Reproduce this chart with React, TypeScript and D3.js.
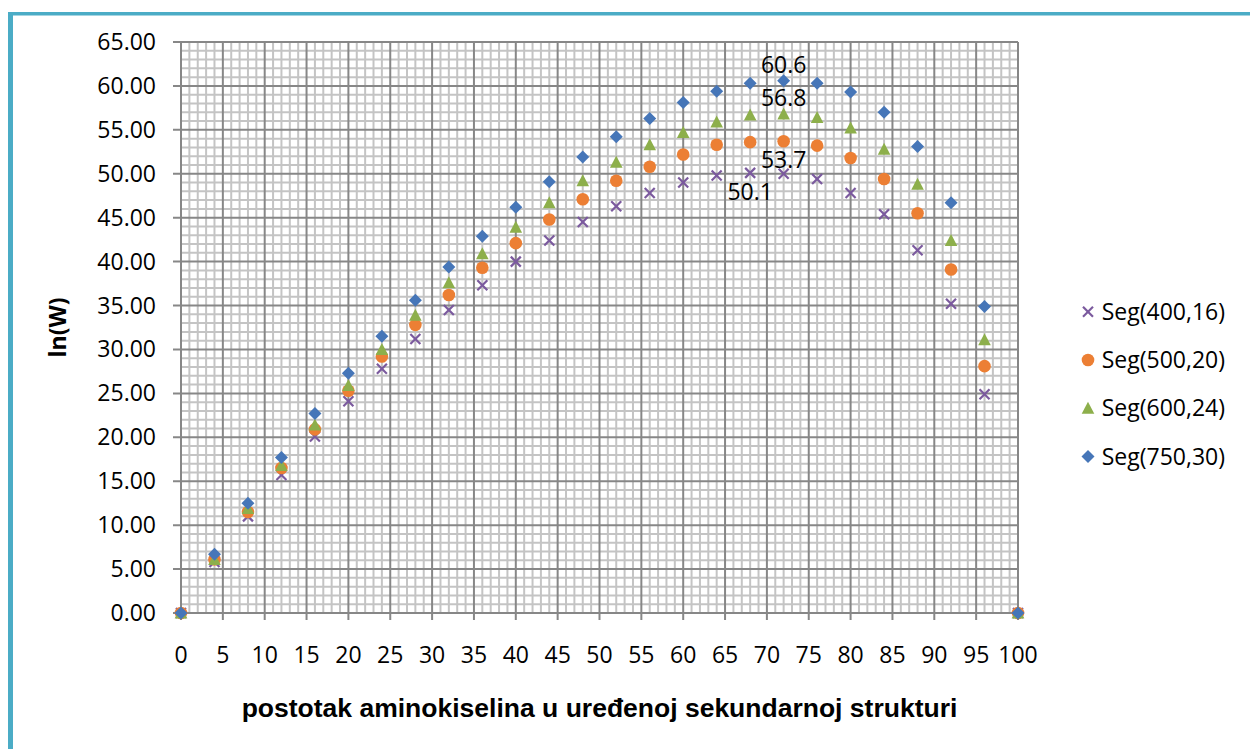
import React from 'react';
import * as d3 from 'd3';

const xValues = [0, 4, 8, 12, 16, 20, 24, 28, 32, 36, 40, 44, 48, 52, 56, 60, 64, 68, 72, 76, 80, 84, 88, 92, 96, 100];
const seg400 = [0, 5.8, 11.0, 15.7, 20.1, 24.1, 27.8, 31.2, 34.5, 37.3, 40.0, 42.4, 44.5, 46.3, 47.8, 49.0, 49.8, 50.1, 50.0, 49.4, 47.8, 45.4, 41.3, 35.2, 24.9, 0];
const seg500 = [0, 6.1, 11.5, 16.5, 20.9, 25.3, 29.2, 32.8, 36.2, 39.3, 42.1, 44.8, 47.1, 49.2, 50.8, 52.2, 53.3, 53.6, 53.7, 53.2, 51.8, 49.4, 45.5, 39.1, 28.1, 0];
const seg600 = [0, 6.1, 11.9, 16.8, 21.4, 25.9, 30.0, 33.9, 37.6, 40.9, 43.9, 46.7, 49.2, 51.3, 53.3, 54.7, 55.9, 56.7, 56.8, 56.4, 55.2, 52.8, 48.8, 42.4, 31.1, 0];
const seg750 = [0, 6.7, 12.5, 17.7, 22.7, 27.3, 31.5, 35.6, 39.4, 42.9, 46.2, 49.1, 51.9, 54.2, 56.3, 58.1, 59.4, 60.3, 60.6, 60.3, 59.3, 57.0, 53.1, 46.7, 34.9, 0];
const seriesNames = ['Seg(400,16)', 'Seg(500,20)', 'Seg(600,24)', 'Seg(750,30)'];
const xTickValues = [0, 5, 10, 15, 20, 25, 30, 35, 40, 45, 50, 55, 60, 65, 70, 75, 80, 85, 90, 95, 100];
const yTickValues = [0, 5, 10, 15, 20, 25, 30, 35, 40, 45, 50, 55, 60, 65];
const xTitle = 'postotak aminokiselina u uređenoj sekundarnoj strukturi';
const yTitle = 'ln(W)';
// data labels: series index, point index, placement
const dataLabels = [
  { series: 3, index: 18, place: 'above' },
  { series: 2, index: 18, place: 'above' },
  { series: 1, index: 18, place: 'below' },
  { series: 0, index: 17, place: 'below' },
];

const seriesValues = [seg400, seg500, seg600, seg750];
const colors = ['#7B5A9E', '#EC7F34', '#8DAF4B', '#4676B8'];
const shapes = ['cross', 'circle', 'triangle', 'diamond'];

const W = 1250;
const H = 749;
const M = { left: 181, right: 1018, top: 42, bottom: 613 };
const numFont = '"Open Sans", "Noto Sans", sans-serif';
const numSize = 23;

function Marker({ shape, color, x, y }: { shape: string; color: string; x: number; y: number }) {
  if (shape === 'cross') {
    const s = 5;
    return (
      <g transform={`translate(${x},${y})`} stroke={color} strokeWidth={2.2}>
        <line x1={-s} y1={-s} x2={s} y2={s} />
        <line x1={-s} y1={s} x2={s} y2={-s} />
      </g>
    );
  }
  if (shape === 'circle') return <circle cx={x} cy={y} r={6.3} fill={color} />;
  if (shape === 'triangle') {
    return <path d={`M${x},${y - 6.5}L${x + 6.3},${y + 5.5}L${x - 6.3},${y + 5.5}Z`} fill={color} />;
  }
  return <path d={`M${x},${y - 6.5}L${x + 6.5},${y}L${x},${y + 6.5}L${x - 6.5},${y}Z`} fill={color} />;
}

export default function App() {
  const x = d3.scaleLinear().domain([0, 100]).range([M.left, M.right]);
  const y = d3.scaleLinear().domain([0, 65]).range([M.bottom, M.top]);
  const fmtY = d3.format('.2f');
  const minorX = d3.range(0, 101, 1).filter((v) => v % 5 !== 0);
  const minorY = d3.range(0, 66, 1).filter((v) => v % 5 !== 0);
  const legendX = 1088;
  const legendY0 = 311.7;
  const legendStep = 48.3;

  return (
    <svg width={W} height={H} style={{ position: 'absolute', left: 0, top: 0, display: 'block', background: '#fff' }}>
      <rect x={0} y={0} width={W} height={H} fill="#fff" />
      {/* frame */}
      <line x1={10.5} y1={12} x2={10.5} y2={H} stroke="#4BACC6" strokeWidth={5} />
      <line x1={8} y1={13.8} x2={W} y2={13.8} stroke="#4BACC6" strokeWidth={3.6} />

      {/* minor grid */}
      <g stroke="#C4C4C4" strokeWidth={2}>
        {minorX.map((v) => (
          <line key={'mx' + v} x1={x(v)} x2={x(v)} y1={M.top} y2={M.bottom} />
        ))}
        {minorY.map((v) => (
          <line key={'my' + v} x1={M.left} x2={M.right} y1={y(v)} y2={y(v)} />
        ))}
      </g>
      {/* major grid */}
      <g stroke="#878787" strokeWidth={2}>
        {xTickValues.map((v) => (
          <line key={'Mx' + v} x1={x(v)} x2={x(v)} y1={M.top} y2={M.bottom + 7} />
        ))}
        {yTickValues.map((v) => (
          <line key={'My' + v} x1={M.left - 8} x2={M.right} y1={y(v)} y2={y(v)} />
        ))}
      </g>

      {/* tick labels */}
      <g fontFamily={numFont} fontSize={numSize} fill="#000">
        {yTickValues.map((v) => (
          <text key={'yt' + v} x={156} y={y(v) + 8} textAnchor="end">
            {fmtY(v)}
          </text>
        ))}
        {xTickValues.map((v) => (
          <text key={'xt' + v} x={x(v)} y={663} textAnchor="middle">
            {v}
          </text>
        ))}
      </g>

      {/* titles */}
      <text
        x={(M.left + M.right) / 2}
        y={717}
        textAnchor="middle"
        fontFamily='"Liberation Sans", Arial, sans-serif'
        fontWeight="bold"
        fontSize={26.5}
      >
        {xTitle}
      </text>
      <text
        transform={`translate(66,${(M.top + M.bottom) / 2}) rotate(-90)`}
        textAnchor="middle"
        fontFamily={numFont}
        fontWeight="bold"
        fontSize={23}
      >
        {yTitle}
      </text>

      {/* series */}
      {seriesValues.map((vals, si) => (
        <g key={'s' + si}>
          {vals.map((v, i) => (
            <Marker key={i} shape={shapes[si]} color={colors[si]} x={x(xValues[i])} y={y(v)} />
          ))}
        </g>
      ))}

      {/* data labels */}
      <g fontFamily={numFont} fontSize={numSize} fill="#000">
        {dataLabels.map((d, k) => {
          const v = seriesValues[d.series][d.index];
          const px = x(xValues[d.index]);
          const py = y(v);
          const ly = d.place === 'above' ? py - 8 : py + 27;
          return (
            <text key={'dl' + k} x={px} y={ly} textAnchor="middle">
              {d3.format('.1f')(v)}
            </text>
          );
        })}
      </g>

      {/* legend */}
      {seriesNames.map((name, si) => {
        const ly = legendY0 + si * legendStep;
        return (
          <g key={'lg' + si}>
            <Marker shape={shapes[si]} color={colors[si]} x={legendX} y={ly} />
            <text x={1101.7} y={ly + 8} fontFamily={numFont} fontSize={numSize}>
              {name}
            </text>
          </g>
        );
      })}
    </svg>
  );
}
